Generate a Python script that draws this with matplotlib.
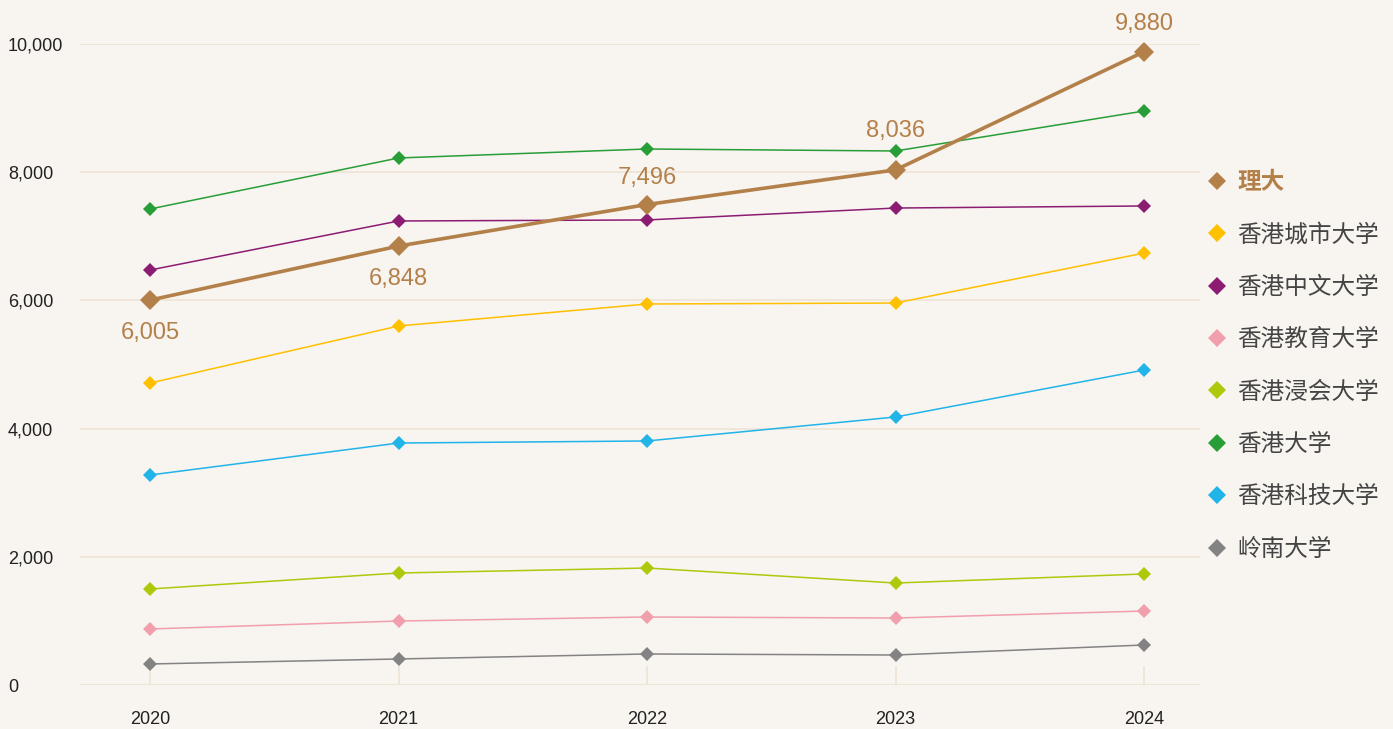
import matplotlib
matplotlib.use("Agg")
import matplotlib.pyplot as plt
from matplotlib.lines import Line2D

plt.rcParams["font.family"] = ["Liberation Sans", "Noto Sans CJK SC", "DejaVu Sans"]

years = [2020, 2021, 2022, 2023, 2024]

# series values
polyu = [6005, 6848, 7496, 8036, 9880]
cityu = [4711, 5601, 5944, 5959, 6739]
cuhk = [6474, 7239, 7255, 7441, 7473]
eduhk = [874, 998, 1061, 1045, 1154]
hkbu = [1498, 1747, 1825, 1591, 1732]
hku = [7426, 8222, 8362, 8331, 8955]
hkust = [3276, 3775, 3807, 4181, 4914]
lingnan = [328, 406, 484, 468, 624]

names = ["理大", "香港城市大学", "香港中文大学", "香港教育大学",
         "香港浸会大学", "香港大学", "香港科技大学", "岭南大学"]
series = [polyu, cityu, cuhk, eduhk, hkbu, hku, hkust, lingnan]
colors = ["#b4804a", "#ffc000", "#8b1c72", "#f29fad",
          "#afc80b", "#289e38", "#20b4e8", "#838383"]

label_side = ["below", "below", "above", "above", "above"]

bg = "#f8f4f0"
grid_c = "#efe2d5"

fig = plt.figure(figsize=(13.93, 7.29), dpi=100, facecolor=bg)
ax = fig.add_axes([80 / 1393, 1 - 685 / 729, 1120 / 1393, (685 - 44) / 729])
ax.set_facecolor(bg)

# other series first, PolyU drawn on top
for name, vals, c in list(zip(names, series, colors))[::-1]:
    if name == "理大":
        continue
    ax.plot(years, vals, color=c, lw=1.1, marker="D", markersize=6.8,
            markeredgewidth=0, zorder=3, clip_on=False)

ax.plot(years, polyu, color=colors[0], lw=2.6, marker="D", markersize=10.5,
        markeredgewidth=0, zorder=5, clip_on=False)

for x, v, side in zip(years, polyu, label_side):
    dy = -24 if side == "below" else 20
    if x == 2022:
        dy = 19
    if x == 2023:
        dy = 28
    ax.annotate(f"{v:,}", (x, v), xytext=(0, dy), textcoords="offset points",
                ha="center", va="center", fontsize=17, color=colors[0],
                zorder=6)

ax.set_xlim(2019.718, 2024.225)
ax.set_ylim(0, 10000)
ticks = [0, 2000, 4000, 6000, 8000, 10000]
ax.set_yticks(ticks)
ax.set_yticklabels([f"{t:,}" for t in ticks])
ax.set_xticks(years)
ax.set_xticklabels([str(y) for y in years])

for s in ax.spines.values():
    s.set_visible(False)
ax.grid(axis="y", color=grid_c, lw=1.2)
ax.set_axisbelow(True)
ax.tick_params(axis="y", length=0, pad=52, labelsize=13, labelcolor="#222222")
for lbl in ax.get_yticklabels():
    lbl.set_horizontalalignment("left")
ax.tick_params(axis="x", direction="in", length=14, width=1.2, color=grid_c,
               pad=19, labelsize=13, labelcolor="#222222")

handles = [Line2D([], [], linestyle="None", marker="D", markersize=9.5,
                  markeredgewidth=0, color=c) for c in colors]
leg = ax.legend(handles, names, loc="upper left",
                bbox_to_anchor=(1209 / 1393, 1 - 170 / 729),
                bbox_transform=fig.transFigure, frameon=False,
                handlelength=0.7, handletextpad=0.5, labelspacing=1.245,
                borderpad=0, borderaxespad=0,
                prop={"family": ["Noto Sans CJK SC"], "size": 17})
for i, t in enumerate(leg.get_texts()):
    if i == 0:
        t.set_color(colors[0])
        t.set_fontweight("bold")
    else:
        t.set_color("#444444")

fig.savefig("out.png", dpi=100, facecolor=bg)
